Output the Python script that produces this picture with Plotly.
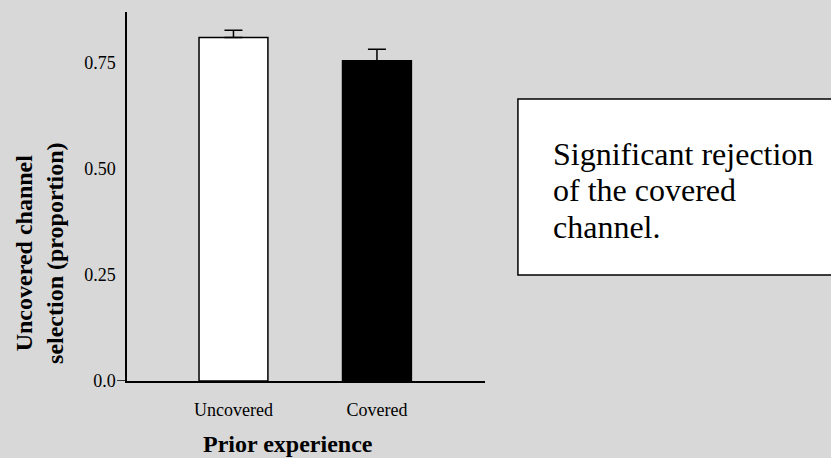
import plotly.graph_objects as go

categories = ["Uncovered", "Covered"]
means = [0.81, 0.755]
sems = [0.017, 0.027]
bar_colors = ["white", "black"]
y_tickvals = [0.0, 0.25, 0.50, 0.75]
y_ticktext = ["0.0", "0.25", "0.50", "0.75"]
note_lines = ["Significant rejection", "of the covered", "channel."]

SERIF = "Liberation Serif, Times New Roman, serif"
BG = "#d8d8d8"

fig = go.Figure()
fig.add_trace(go.Bar(
    x=categories, y=means,
    width=0.48,
    marker=dict(color=bar_colors, line=dict(color="black", width=1.5)),
    error_y=dict(type="data", array=sems, arrayminus=[0] * len(sems),
                 symmetric=False, width=9, thickness=1.5, color="black"),
    showlegend=False,
))

note_annotations = []
note_y = [0.6159, 0.5165, 0.4173]
for line, yy in zip(note_lines, note_y):
    note_annotations.append(dict(
        text=line, xref="paper", yref="paper", x=1.184, y=yy,
        showarrow=False, xanchor="left", yanchor="middle", align="left",
        font=dict(family=SERIF, size=32, color="black")))

fig.update_layout(
    width=831, height=458,
    margin=dict(l=127, r=346, t=12, b=77),
    paper_bgcolor=BG, plot_bgcolor=BG,
    font=dict(family=SERIF, color="black"),
    xaxis=dict(
        range=[-0.742, 1.753], showgrid=False, zeroline=False,
        showline=True, linecolor="black", linewidth=1.5,
        ticks="outside", ticklen=12, tickcolor="rgba(0,0,0,0)",
        tickfont=dict(family=SERIF, size=18, color="black"),
    ),
    yaxis=dict(
        range=[0, 0.87], showgrid=False, zeroline=False,
        showline=True, linecolor="black", linewidth=1.5,
        tickvals=y_tickvals, ticktext=y_ticktext,
        ticks="outside", ticklen=6, tickcolor="rgba(0,0,0,0)",
        tickfont=dict(family=SERIF, size=18, color="black"),
    ),
    shapes=[
        dict(type="line", xref="paper", yref="y", x0=-0.028, x1=0, y0=0, y1=0,
             line=dict(color="black", width=1.5)),
        dict(type="rect", xref="paper", yref="paper", x0=1.092, x1=1.98,
             y0=0.287, y1=0.764, fillcolor="white",
             line=dict(color="black", width=1.5), layer="below"),
    ],
    annotations=[
        dict(text="<b>Uncovered channel<br>selection (proportion)</b>",
             xref="paper", yref="paper", x=-0.243, y=0.347,
             textangle=-90, showarrow=False, xanchor="center", yanchor="middle",
             font=dict(family=SERIF, size=24, color="black")),
        dict(text="<b>Prior experience</b>",
             xref="paper", yref="paper", x=0.45, y=-0.171,
             showarrow=False, xanchor="center", yanchor="middle",
             font=dict(family=SERIF, size=24, color="black")),
    ] + note_annotations,
)

fig.write_html("out.html", config={"displayModeBar": False},
               post_script="document.body.style.margin='0';document.body.style.padding='0';")
